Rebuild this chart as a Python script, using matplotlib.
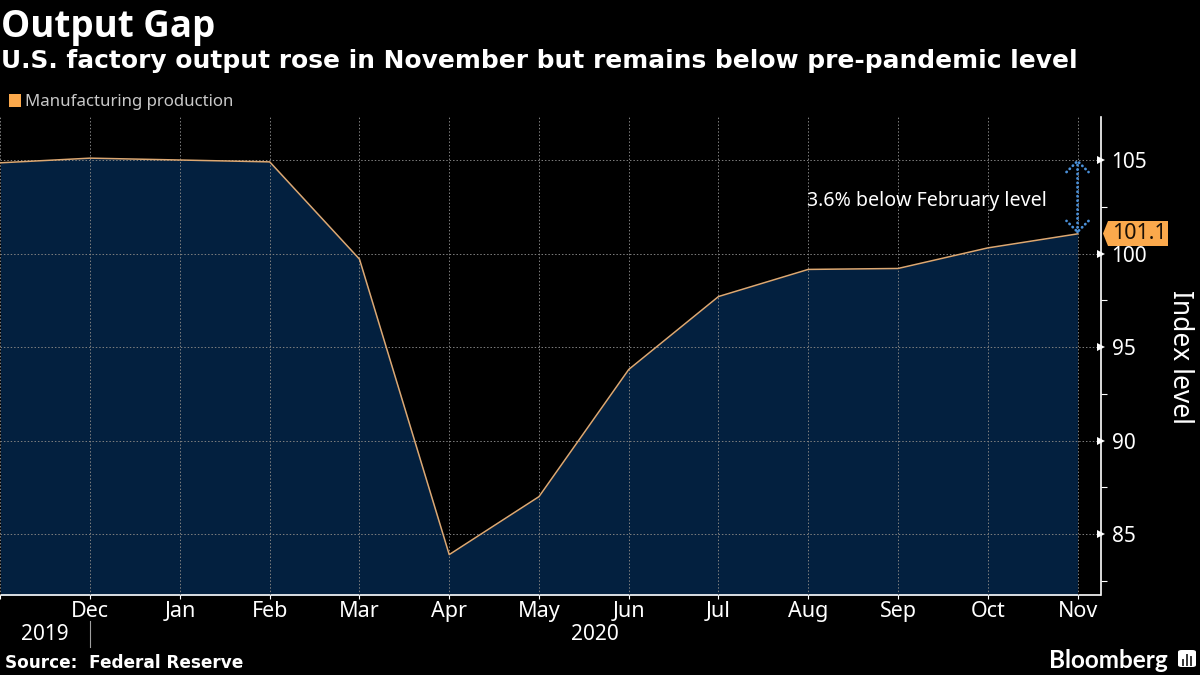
import matplotlib
matplotlib.use('Agg')
import matplotlib.pyplot as plt
from matplotlib.patches import Polygon, FancyBboxPatch, Rectangle
import numpy as np

production = [104.85, 105.1, 105.0, 104.9, 99.7, 83.9, 87.0, 93.8, 97.7, 99.15, 99.2, 100.3, 101.05]
month_labels = ['', 'Dec', 'Jan', 'Feb', 'Mar', 'Apr', 'May', 'Jun', 'Jul', 'Aug', 'Sep', 'Oct', 'Nov']
y_ticks = [85, 90, 95, 100, 105]
minor_ticks = [82.5, 87.5, 92.5, 97.5, 102.5]

ORANGE = '#fba94c'
NAVY = '#03203f'
W, H = 1200, 675

plt.rcParams['font.family'] = ['Noto Sans', 'DejaVu Sans']

fig = plt.figure(figsize=(12, 6.75), dpi=100, facecolor='black')
# axes box in pixels: left 0, right 1100, top 117, bottom 595
ax = fig.add_axes([0, 1 - 595 / H, 1100.5 / W, (595 - 117) / H], facecolor='black')

x = np.arange(len(production))
ax.fill_between(x, production, 70, color=NAVY, lw=0, zorder=1)
ax.plot(x, production, color='#dca873', lw=1.1, zorder=3)

ax.set_ylim(81.74, 107.3)
ax.set_xlim(-0.005, 12.256)

ax.set_xticks(x)
ax.set_xticklabels(month_labels, color='white', fontsize=15.5)
ax.xaxis.set_tick_params(length=3, color='white', width=0.8, pad=1)
ax.yaxis.tick_right()
ax.set_yticks(y_ticks)
ax.set_yticks(minor_ticks, minor=True)
ax.tick_params(axis='y', which='major', length=0, pad=8, labelsize=15, labelcolor='white')
ax.tick_params(axis='y', which='minor', length=4, color='white', width=0.8)
ax.grid(True, which='major', color='#808080', ls=(0, (1.5, 2)), lw=0.7, zorder=2)
ax.set_axisbelow(False)

for side in ['top', 'left']:
    ax.spines[side].set_visible(False)
for side in ['bottom', 'right']:
    ax.spines[side].set_color('white')
    ax.spines[side].set_linewidth(1.2)

# little triangles on the right spine
ax.plot([1] * len(y_ticks), y_ticks, '>', color='white', ms=6, mew=0,
        transform=ax.get_yaxis_transform(), clip_on=False, zorder=5)

ax.yaxis.set_label_position('right')
ax.set_ylabel('Index level', color='white', fontsize=19, rotation=270)
ax.yaxis.set_label_coords(1.0 + 93.5 / 1100.5, 0.498)

# gap arrow
ax.annotate('', xy=(x[-1], 105.05), xytext=(x[-1], 101.05),
            arrowprops=dict(arrowstyle='<->,head_width=0.36,head_length=0.36', color='#4a90d9', ls=(0, (0.1, 1.5)),
                            lw=2.0, shrinkA=0, shrinkB=0, mutation_scale=22), zorder=6)
ax.text(x[-1] - 0.345, 102.82, '3.6% below February level', color='white',
        fontsize=14.1, ha='right', va='center')

# last value tag
fig.add_artist(Polygon([(1103 / W, 1 - 233.5 / H), (1108 / W, 1 - 221 / H), (1168 / W, 1 - 221 / H),
                        (1168 / W, 1 - 246 / H), (1108 / W, 1 - 246 / H)],
                       closed=True, facecolor=ORANGE, edgecolor='none', transform=fig.transFigure))
fig.text(1112 / W, 1 - 233.5 / H, '101.1', color='#1a1006', fontsize=15.5, ha='left', va='center')

# header
fig.text(1 / W, 1 - 27 / H, 'Output Gap', color='white', fontsize=26.5, fontweight='bold',
         family=['Open Sans', 'DejaVu Sans'], va='center')
fig.text(1 / W, 1 - 61 / H, 'U.S. factory output rose in November but remains below pre-pandemic level',
         color='white', fontsize=17.95, fontweight='bold', family=['DejaVu Sans'], va='center')

# legend
fig.add_artist(Rectangle((9 / W, 1 - 107 / H), 12 / W, 13 / H, facecolor=ORANGE, edgecolor='none',
                         transform=fig.transFigure))
fig.text(25 / W, 1 - 102 / H, 'Manufacturing production', color='#c8c8c8', fontsize=12.1, va='center')

# year row
fig.text(45 / W, 1 - 635 / H, '2019', color='white', fontsize=15, ha='center', va='center')
fig.text(595 / W, 1 - 635 / H, '2020', color='white', fontsize=15, ha='center', va='center')
fig.add_artist(plt.Line2D([90 / W, 90 / W], [1 - 621 / H, 1 - 647 / H], color='#a0a0a0', lw=0.8))

# footer
fig.text(5 / W, 1 - 663 / H, 'Source:  Federal Reserve', color='white', fontsize=12.15, fontweight='bold',
         family=['DejaVu Sans'], va='center')
fig.text(1168 / W, 1 - 660 / H, 'Bloomberg', color='white', fontsize=17.5, fontweight='bold',
         family=['Lato', 'DejaVu Sans'], ha='right', va='center')

# bloomberg icon
fig.add_artist(FancyBboxPatch((1178 / W, 1 - 667 / H), 18 / W, 17 / H, boxstyle='round,pad=0,rounding_size=0.003',
                              facecolor='white', edgecolor='none', transform=fig.transFigure))
for bx, top, bottom in [(1183, 660, 665), (1187, 655, 665), (1191, 657, 665)]:
    fig.add_artist(plt.Line2D([bx / W, bx / W], [1 - top / H, 1 - bottom / H], color='#333333', lw=1.4))

fig.savefig('out.png', dpi=100, facecolor='black')
